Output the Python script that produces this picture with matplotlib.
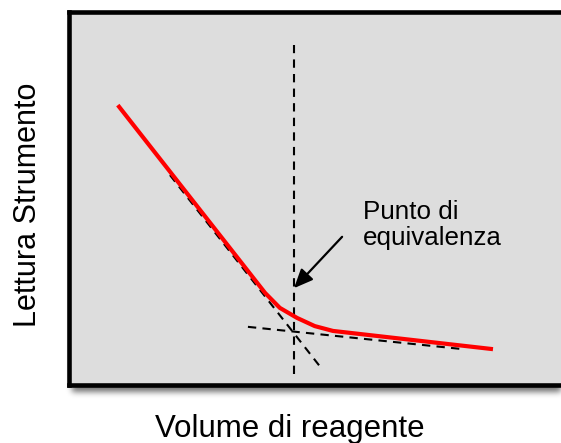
import numpy as np
import matplotlib
matplotlib.use("Agg")
import matplotlib.pyplot as plt

plt.rcParams['font.family'] = ['Liberation Sans', 'DejaVu Sans']

# Titration curve (instrument reading vs. volume of reagent)
curve_x = [9.7, 38.8, 41.7, 45.1, 48.6, 52.2, 83.8]
curve_y = [75.1, 24.6, 20.6, 17.9, 15.7, 14.4, 9.5]

# Extrapolated linear branches
steep_x = [20.0, 50.0]
steep_y = [56.3, 4.2]
shallow_x = [35.4, 77.9]
shallow_y = [15.5, 9.5]

# Equivalence point volume
equiv_x = 44.5
equiv_span = [2.8, 91.3]
arrow_tail = (54.0, 39.7)
arrow_head = (44.5, 25.9)
label_pos = (58.1, 37.5)
label_text = "Punto di\nequivalenza"
xlabel = "Volume di reagente"
ylabel = "Lettura Strumento"

W, H, DPI = 561, 443, 100
fig = plt.figure(figsize=(W / DPI, H / DPI), dpi=DPI)

left, right, top, bottom = 68.7, 575.0, 12.5, 384.5
ax = fig.add_axes([left / W, 1 - bottom / H, (right - left) / W, (bottom - top) / H])

# soft drop shadow behind the panel
yy, xx = np.mgrid[0:H, 0:W]
mask = ((xx >= left + 3) & (xx <= right + 30) & (yy >= top + 7) & (yy <= bottom + 7)).astype(float)
k = np.exp(-0.5 * (np.arange(-9, 10) / 3.0) ** 2)
k /= k.sum()
mask = np.apply_along_axis(lambda r: np.convolve(r, k, mode='same'), 1, mask)
mask = np.apply_along_axis(lambda c: np.convolve(c, k, mode='same'), 0, mask)
shadow = np.zeros((H, W, 4))
shadow[..., 3] = 0.55 * mask
fig.figimage(shadow, 0, 0, origin='upper', zorder=0)

ax.set_zorder(1)
ax.set_facecolor('#dddddd')
for s in ax.spines.values():
    s.set_linewidth(3.3)
    s.set_color('black')
ax.spines['right'].set_visible(False)
ax.set_xlim(0, 100)
ax.set_ylim(0, 100)
ax.set_xticks([])
ax.set_yticks([])

dash = dict(color='black', lw=1.5, dashes=(4, 3))
ax.plot(steep_x, steep_y, **dash)
ax.plot(shallow_x, shallow_y, **dash)
ax.plot([equiv_x, equiv_x], equiv_span, **dash)
ax.plot(curve_x, curve_y, color='#ff0000', lw=3.0, solid_capstyle='butt', zorder=3)

ax.annotate('', xy=arrow_head, xytext=arrow_tail,
            arrowprops=dict(arrowstyle='-|>,head_length=1.15,head_width=0.5',
                            color='black', lw=1.6, shrinkA=0, shrinkB=0))
ax.text(*label_pos, label_text, fontsize=18.7, ha='left', va='baseline',
        linespacing=1.1, color='black')

fig.text(290 / W, 1 - 437 / H, xlabel, fontsize=22.5, ha='center', va='baseline')
fig.text(28 / W, 1 - 205 / H, ylabel, fontsize=22, rotation=90, ha='center', va='center')

fig.savefig('out.png', dpi=DPI)
